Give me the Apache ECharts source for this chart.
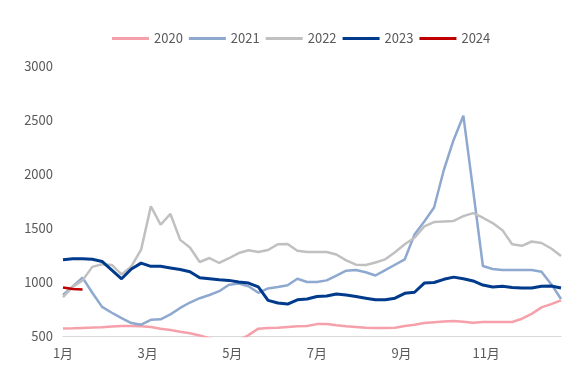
<!DOCTYPE html>
<html>
<head>
<meta charset="utf-8">
<script src="https://cdn.jsdelivr.net/npm/echarts@6/dist/echarts.min.js"></script>
<style>
html,body{margin:0;padding:0;background:#fff;}
#chart{width:575px;height:378px;}
</style>
</head>
<body>
<div id="chart"></div>
<script>
// Weekly values (52 weeks)
var monthLabels = ['1月', '3月', '5月', '7月', '9月', '11月'];
var seriesNames = ['2020', '2021', '2022', '2023', '2024'];

var v2020 = [570, 572, 575, 578, 582, 588, 593, 593, 590, 583, 568, 556, 540, 525, 505, 480, 460, 450, 460, 508,
             568, 574, 576, 583, 590, 593, 610, 611, 600, 590, 583, 576, 574, 574, 576, 593, 605, 620, 628, 635,
             639, 632, 622, 630, 630, 630, 630, 660, 705, 765, 795, 830];
var v2021 = [880, 960, 1040, 900, 770, 715, 665, 620, 605, 650, 655, 700, 760, 810, 850, 880, 915, 975, 985, 960,
             900, 940, 954, 970, 1030, 1000, 1000, 1015, 1060, 1105, 1111, 1090, 1060, 1110, 1160, 1210, 1440, 1560, 1690, 2037,
             2315, 2540, 1850, 1148, 1120, 1111, 1111, 1111, 1111, 1095, 980, 843];
var v2022 = [860, 955, 1015, 1140, 1165, 1158, 1070, 1145, 1300, 1700, 1530, 1630, 1390, 1320, 1185, 1222, 1176, 1220, 1268, 1294,
             1278, 1296, 1350, 1352, 1290, 1278, 1278, 1278, 1255, 1200, 1160, 1157, 1180, 1210, 1275, 1350, 1410, 1515, 1555, 1560,
             1565, 1610, 1638, 1595, 1546, 1480, 1350, 1335, 1375, 1361, 1310, 1241];
var v2023 = [1205, 1215, 1215, 1210, 1190, 1110, 1030, 1120, 1175, 1145, 1145, 1130, 1115, 1095, 1040, 1030, 1020, 1015, 1000, 990,
             955, 830, 805, 796, 835, 843, 865, 870, 888, 880, 865, 850, 835, 835, 850, 895, 905, 990, 995, 1025,
             1045, 1030, 1010, 972, 954, 960, 950, 945, 944, 960, 963, 944];
var v2024 = [950, 935, 930];

var colors = ['#F5A0AA', '#8EA8D0', '#C0C0C0', '#003A8C', '#C00000'];
var allValues = [v2020, v2021, v2022, v2023, v2024];

function toPairs(arr) {
  return arr.map(function (v, i) { return [i, v]; });
}

var STEP = 52 / 6;
var font = '"Noto Sans CJK SC", "Noto Sans", sans-serif';

var chart = echarts.init(document.getElementById('chart'), null, {renderer: 'canvas'});
chart.setOption({
  animation: false,
  color: colors,
  legend: {
    left: 107,
    top: 27,
    icon: 'rect',
    itemWidth: 37,
    itemHeight: 3,
    itemGap: 6,
    textStyle: {color: '#595959', fontSize: 13, fontFamily: font},
    data: seriesNames
  },
  grid: {left: 63, right: 14, top: 66, bottom: 42, containLabel: false},
  xAxis: {
    type: 'value',
    min: 0,
    max: 51,
    interval: STEP,
    axisLine: {show: true, lineStyle: {color: '#D9D9D9', width: 1}},
    axisTick: {show: false},
    splitLine: {show: false},
    axisLabel: {
      color: '#595959',
      fontSize: 13,
      fontFamily: font,
      margin: 11,
      showMaxLabel: false,
      formatter: function (v) {
        var idx = Math.round(v / STEP);
        if (Math.abs(v - idx * STEP) < 0.01 && idx < monthLabels.length) return monthLabels[idx];
        return '';
      }
    }
  },
  yAxis: {
    type: 'value',
    min: 500,
    max: 3000,
    interval: 500,
    axisLine: {show: false},
    axisTick: {show: false},
    splitLine: {show: false},
    axisLabel: {
      color: '#595959', fontSize: 13, fontFamily: font, margin: 10,
      formatter: function (v) { return String(v); }
    }
  },
  series: seriesNames.map(function (name, k) {
    return {
      name: name,
      type: 'line',
      data: toPairs(allValues[k]),
      symbol: 'none',
      clip: true,
      lineStyle: {width: k === 3 ? 3 : 2.5, color: colors[k]},
      itemStyle: {color: colors[k]}
    };
  })
});
</script>
</body>
</html>
